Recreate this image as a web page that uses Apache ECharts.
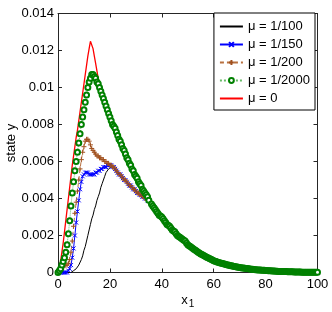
<!DOCTYPE html>
<html><head><meta charset="utf-8">
<script src="https://cdn.jsdelivr.net/npm/echarts@6/dist/echarts.min.js"></script>
<style>html,body{margin:0;padding:0;background:#fff}#c{width:332px;height:312px}</style>
</head><body><div id="c"></div>
<script>
// x grid: head 0..21.5, mid 22..35, tail 36..100 (all step 0.5)
const xHead=[0,0.5,1,1.5,2,2.5,3,3.5,4,4.5,5,5.5,6,6.5,7,7.5,8,8.5,9,9.5,10,10.5,11,11.5,12,12.5,13,13.5,14,14.5,15,15.5,16,16.5,17,17.5,18,18.5,19,19.5,20,20.5,21,21.5];
const xMid=[22,22.5,23,23.5,24,24.5,25,25.5,26,26.5,27,27.5,28,28.5,29,29.5,30,30.5,31,31.5,32,32.5,33,33.5,34,34.5,35];
const xTail=[36,36.5,37,37.5,38,38.5,39,39.5,40,40.5,41,41.5,42,42.5,43,43.5,44,44.5,45,45.5,46,46.5,47,47.5,48,48.5,49,49.5,
  50,50.5,51,51.5,52,52.5,53,53.5,54,54.5,55,55.5,56,56.5,57,57.5,58,58.5,59,59.5,
  60,60.5,61,61.5,62,62.5,63,63.5,64,64.5,65,65.5,66,66.5,67,67.5,68,68.5,69,69.5,
  70,70.5,71,71.5,72,72.5,73,73.5,74,74.5,75,75.5,76,76.5,77,77.5,78,78.5,79,79.5,
  80,80.5,81,81.5,82,82.5,83,83.5,84,84.5,85,85.5,86,86.5,87,87.5,88,88.5,89,89.5,
  90,90.5,91,91.5,92,92.5,93,93.5,94,94.5,95,95.5,96,96.5,97,97.5,98,98.5,99,99.5,100];

const blackHead=[0,0,0,0,0,0,0,0,0,0,0,0.00003,0.0001,0.00015,0.0002,0.0003,0.0004,0.0005,0.0007,0.0009,0.0012,0.0014,0.0017,0.0020,0.0023,0.0026,0.0029,0.0031,0.0034,0.0036,0.0039,0.0041,0.0043,0.0046,0.0048,0.0050,0.0052,0.0054,0.0055,0.0056,0.0057,0.0057,0.0057,0.0057];
const blueHead=[0,0,0,0,0,0,0,0,0.0001,0.0002,0.0004,0.0008,0.0013,0.0020,0.0027,0.0033,0.0039,0.0045,0.0049,0.0052,0.0053,0.0054,0.0054,0.0054,0.0053,0.0053,0.0053,0.0053,0.0053,0.0054,0.0054,0.0055,0.0055,0.0056,0.0056,0.0057,0.0057,0.0057,0.0058,0.0058,0.0058,0.0058,0.0057,0.0057];
const brownHead=[0,0.00005,0.0001,0.0002,0.0003,0.0004,0.0004,0.0004,0.0005,0.0007,0.0011,0.0017,0.0025,0.0032,0.0038,0.0044,0.0050,0.0056,0.0061,0.0065,0.0068,0.0071,0.0072,0.0072,0.0071,0.0069,0.0067,0.0066,0.0065,0.0064,0.0063,0.0063,0.0062,0.0062,0.0061,0.0061,0.0060,0.0060,0.0059,0.0059,0.0058,0.0058,0.0057,0.0057];
const greenHead=[0,0.0001,0.0002,0.0004,0.0006,0.0008,0.0011,0.0015,0.0021,0.0028,0.0036,0.0043,0.0049,0.0055,0.0060,0.0065,0.0070,0.0075,0.0080,0.0084,0.0088,0.0092,0.0096,0.0100,0.0103,0.0105,0.0107,0.0107,0.0106,0.0105,0.0103,0.0102,0.0100,0.0098,0.0096,0.0094,0.0092,0.0090,0.0088,0.0086,0.0084,0.0082,0.0080,0.0079];
const redHead=[0,0.0002,0.0006,0.0011,0.0016,0.0022,0.0028,0.0034,0.0040,0.0046,0.0052,0.0058,0.0063,0.0068,0.0073,0.0077,0.0082,0.0087,0.0092,0.0097,0.0102,0.0107,0.0112,0.0117,0.0121,0.0125,0.0124,0.0121,0.0117,0.0113,0.0109,0.0105,0.0102,0.0099,0.0097,0.0095,0.0093,0.0091,0.0089,0.0087,0.0085,0.0083,0.0081,0.0080];
// shared segments where curves coincide
const lowerMid=[0.0056,0.0055,0.0054,0.0053,0.0053,0.0052,0.0051,0.0050,0.0050,0.0049,0.0048,0.0047,0.0047,0.0046,0.0045,0.0045,0.0044,0.0043,0.0043,0.0042,0.0042,0.0041,0.0041,0.0040,0.0040,0.0039,0.0039];
const upperMid=[0.0078,0.0076,0.0074,0.0072,0.0071,0.0069,0.0067,0.0066,0.0064,0.0062,0.0061,0.0059,0.0058,0.0056,0.0055,0.0053,0.0052,0.0051,0.0049,0.0048,0.0047,0.0045,0.0044,0.0043,0.0042,0.0041,0.0039];
const tail=[0.0037,0.0036,0.0035,0.0034,0.0033,0.0032,0.0031,0.00305,0.0030,0.0029,0.0028,0.0027,0.0026,0.00255,0.0025,0.0024,0.0023,0.00225,0.0022,0.0021,0.0020,0.00195,0.0019,0.00185,0.0018,0.00175,0.0017,0.0016,
  0.0015,0.00145,0.0014,0.00135,0.0013,0.00125,0.0012,0.00115,0.0011,0.00105,0.0010,0.00097,0.00093,0.00089,0.00085,0.00081,0.00078,0.00074,0.00071,0.00067,
  0.00064,0.00061,0.00059,0.00056,0.00054,0.00052,0.0005,0.00048,0.00046,0.00044,0.00042,0.0004,0.00039,0.00037,0.00036,0.00034,0.00033,0.00031,0.0003,0.00028,
  0.00027,0.00026,0.00025,0.00024,0.00023,0.00022,0.00021,0.0002,0.00019,0.00018,0.00017,0.00016,0.00015,0.000145,0.00014,0.000135,0.00013,0.000125,0.00012,0.000115,
  0.00011,0.000105,0.0001,0.000095,0.00009,0.000085,0.00008,0.000075,0.00007,0.000065,0.00006,0.00006,0.00006,0.000055,0.00005,0.00005,0.00005,0.000045,0.00004,0.00004,
  0.00004,0.000035,0.00003,0.00003,0.00003,0.00003,0.00003,0.000025,0.00002,0.00002,0.00002,0.00002,0.00002,0.00002,0.00002,0.000015,0.00001,0.00001,0.00001,0.00001,0.00001];

const names=['μ = 1/100','μ = 1/150','μ = 1/200','μ = 1/2000','μ = 0'];
const xTicks={min:0,max:100,interval:20};
const yTicks={min:0,max:0.014,interval:0.002};

const xs=xHead.concat(xMid,xTail);
function pts(head,mid){const ys=head.concat(mid,tail);return xs.map((x,i)=>[x,ys[i]]);}

const FONT='"Liberation Sans", Arial, Helvetica, sans-serif';
const AX='#262626';
const chart=echarts.init(document.getElementById('c'),null,{renderer:'canvas'});
const axBase={type:'value',axisLine:{show:true,onZero:false,lineStyle:{color:AX,width:1}},
  axisTick:{show:true,inside:true,length:4,lineStyle:{color:AX}},splitLine:{show:false}};
chart.setOption({
  animation:false,
  backgroundColor:'#fff',
  grid:{left:58,right:14.5,top:13.5,bottom:39.5,show:false,containLabel:false,outerBoundsMode:'none'},
  xAxis:[
    Object.assign({},axBase,xTicks,{position:'bottom',
      axisLabel:{fontSize:13,color:'#000',fontFamily:FONT,margin:5},
      name:'{a|x}{b|1}',nameLocation:'middle',nameGap:18,nameMoveOverlap:false,
      nameTextStyle:{color:'#000',fontFamily:FONT,rich:{a:{fontSize:13,fontFamily:FONT,color:'#000'},b:{fontSize:10,fontFamily:FONT,color:'#000',padding:[9,0,0,1]}}}}),
    Object.assign({},axBase,xTicks,{position:'top',axisLabel:{show:false}})
  ],
  yAxis:[
    Object.assign({},axBase,yTicks,{position:'left',
      axisLabel:{fontSize:13,color:'#000',fontFamily:FONT,margin:4},
      name:'state y',nameLocation:'middle',nameGap:40,nameMoveOverlap:false,
      nameTextStyle:{fontSize:13,color:'#000',fontFamily:FONT}}),
    Object.assign({},axBase,yTicks,{position:'right',axisLabel:{show:false}})
  ],
  legend:{orient:'vertical',right:17,top:13,itemWidth:23,itemHeight:6,itemGap:5,
    padding:[7,5,5,5],borderColor:'#000',borderWidth:1,backgroundColor:'#fff',
    textStyle:{fontSize:13,color:'#000',fontFamily:FONT},
    data:[{name:names[0],itemStyle:{opacity:0}},names[1],names[2],names[3],{name:names[4],itemStyle:{opacity:0}}]},
  series:[
    {name:names[0],type:'line',data:pts(blackHead,lowerMid),symbol:'none',
      itemStyle:{color:'#000'},lineStyle:{color:'#000',width:1}},
    {name:names[1],type:'line',data:pts(blueHead,lowerMid),symbol:'path://M0,0L10,10M10,0L0,10',symbolSize:4,showAllSymbol:true,
      itemStyle:{color:'#0000ff',borderColor:'#0000ff',borderWidth:1},lineStyle:{color:'#0000ff',width:1}},
    {name:names[2],type:'line',data:pts(brownHead,lowerMid),symbol:'path://M5,0L5,10M0,5L10,5',symbolSize:5,showAllSymbol:true,
      itemStyle:{color:'#a0501e',borderColor:'#a0501e',borderWidth:1},lineStyle:{color:'#b8703f',width:1,type:[4,3]}},
    {name:names[3],type:'line',data:pts(greenHead,upperMid),symbol:'emptyCircle',symbolSize:5,showAllSymbol:true,
      itemStyle:{color:'#008000',borderColor:'#008000',borderWidth:1},lineStyle:{color:'#66bb66',width:1,type:'dotted'}},
    {name:names[4],type:'line',data:pts(redHead,upperMid),symbol:'none',
      itemStyle:{color:'#ff0000'},lineStyle:{color:'#ff0000',width:1.3}}
  ]
});
</script></body></html>
